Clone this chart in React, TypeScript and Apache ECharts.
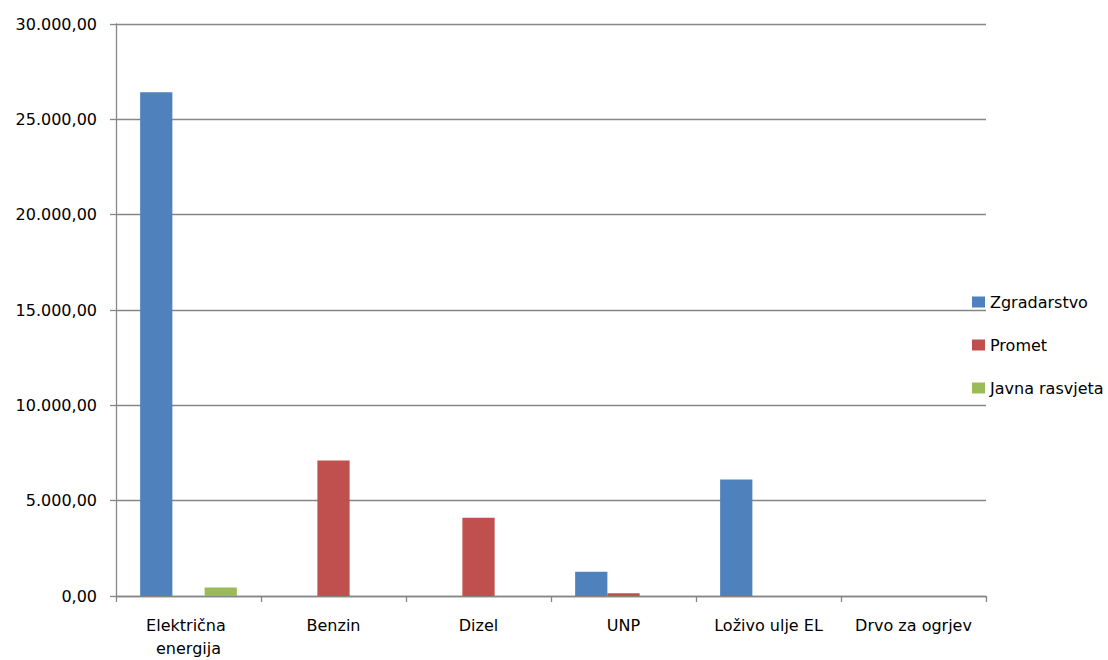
import React, { useEffect, useRef } from "react";
import * as echarts from "echarts";

const categories = ["Električna energija", "Benzin", "Dizel", "UNP", "Loživo ulje EL", "Drvo za ogrjev"];
const seriesNames = ["Zgradarstvo", "Promet", "Javna rasvjeta"];
const zgradarstvo = [26420, 0, 0, 1270, 6110, 0];
const promet = [0, 7110, 4100, 150, 0, 0];
const javnaRasvjeta = [450, 0, 0, 0, 0, 0];
const colors = ["#4F81BD", "#C0504D", "#9BBB59"];

function fmt(v: number): string {
  const fixed = Math.abs(v).toFixed(2);
  const [intPart, dec] = fixed.split(".");
  const withDots = intPart.replace(/\B(?=(\d{3})+(?!\d))/g, ".");
  return (v < 0 ? "-" : "") + withDots + "," + dec;
}

export default function App() {
  const ref = useRef<HTMLDivElement>(null);
  useEffect(() => {
    if (!ref.current) return;
    const chart = echarts.init(ref.current, undefined, { renderer: "svg" });
    const font = "DejaVu Sans";
    const values = [zgradarstvo, promet, javnaRasvjeta];
    chart.setOption({
      animation: false,
      color: colors,
      grid: { left: 116, right: 122, top: 24, bottom: 64, containLabel: false },
      legend: {
        orient: "vertical",
        left: 967,
        top: 287,
        icon: "rect",
        itemWidth: 13,
        itemHeight: 11,
        itemGap: 23,
        textStyle: { fontFamily: font, fontSize: 16, color: "#000", lineHeight: 20 },
        data: seriesNames,
      },
      xAxis: {
        type: "category",
        data: categories,
        axisLine: { show: true, lineStyle: { color: "#868686", width: 1.3 } },
        axisTick: { show: true, length: 6, lineStyle: { color: "#868686", width: 1.3 } },
        axisLabel: {
          fontFamily: font,
          fontSize: 16,
          color: "#000",
          margin: 18,
          lineHeight: 23,
          width: 140,
          overflow: "break",
          interval: 0,
        },
      },
      yAxis: {
        type: "value",
        min: 0,
        max: 30000,
        interval: 5000,
        axisLine: { show: true, lineStyle: { color: "#868686", width: 1.3 } },
        axisTick: { show: true, length: 6, lineStyle: { color: "#868686", width: 1.3 } },
        splitLine: { show: true, lineStyle: { color: "#868686", width: 1.3 } },
        axisLabel: {
          fontFamily: font,
          fontSize: 16,
          color: "#000",
          margin: 19,
          formatter: (v: number) => fmt(v),
        },
      },
      series: seriesNames.map((name, i) => ({
        name,
        type: "bar",
        data: values[i],
        barGap: "0%",
        barCategoryGap: "33.3%",
        itemStyle: { color: colors[i] },
      })),
    });
    return () => chart.dispose();
  }, []);
  return (
    <div
      ref={ref}
      style={{ position: "fixed", left: 0, top: 0, width: 1108, height: 660, background: "#fff" }}
    />
  );
}
